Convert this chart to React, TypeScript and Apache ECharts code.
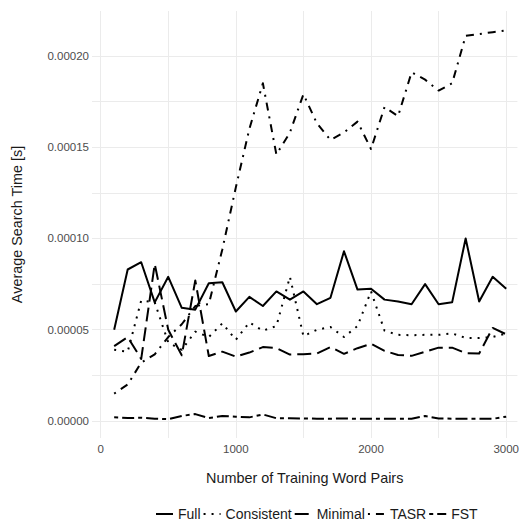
import React, { useEffect, useRef } from "react";
import * as echarts from "echarts";

const xValues = [100, 200, 300, 400, 500, 600, 700, 800, 900, 1000, 1100, 1200, 1300, 1400, 1500, 1600, 1700, 1800, 1900, 2000, 2100, 2200, 2300, 2400, 2500, 2600, 2700, 2800, 2900, 3000];

const fullValues = [5.0e-5, 8.3e-5, 8.7e-5, 6.5e-5, 7.9e-5, 6.2e-5, 6.1e-5, 7.55e-5, 7.6e-5, 6.0e-5, 6.8e-5, 6.3e-5, 7.1e-5, 6.65e-5, 7.1e-5, 6.4e-5, 6.75e-5, 9.3e-5, 7.2e-5, 7.25e-5, 6.65e-5, 6.55e-5, 6.4e-5, 7.5e-5, 6.4e-5, 6.5e-5, 10.0e-5, 6.55e-5, 7.9e-5, 7.25e-5];
const consistentValues = [3.9e-5, 3.8e-5, 6.6e-5, 6.5e-5, 4.3e-5, 3.9e-5, 4.9e-5, 4.6e-5, 5.35e-5, 4.45e-5, 5.4e-5, 4.95e-5, 5.2e-5, 7.9e-5, 4.65e-5, 5.0e-5, 5.15e-5, 4.6e-5, 5.2e-5, 7.1e-5, 4.95e-5, 4.72e-5, 4.7e-5, 4.72e-5, 4.72e-5, 4.8e-5, 4.55e-5, 4.55e-5, 4.6e-5, 4.8e-5];
const minimalValues = [4.1e-5, 4.6e-5, 3.4e-5, 8.6e-5, 5.0e-5, 3.6e-5, 7.7e-5, 3.56e-5, 3.8e-5, 3.53e-5, 3.75e-5, 4.05e-5, 4.0e-5, 3.64e-5, 3.66e-5, 3.7e-5, 4.05e-5, 3.68e-5, 3.99e-5, 4.23e-5, 3.84e-5, 3.62e-5, 3.57e-5, 3.79e-5, 4.02e-5, 4.02e-5, 3.72e-5, 3.7e-5, 5.1e-5, 4.75e-5];
const tasrValues = [1.5e-5, 2.0e-5, 3.2e-5, 3.65e-5, 4.6e-5, 5.3e-5, 6.3e-5, 6.4e-5, 9.4e-5, 12.8e-5, 16.0e-5, 18.5e-5, 14.6e-5, 15.8e-5, 17.9e-5, 16.3e-5, 15.4e-5, 15.8e-5, 16.4e-5, 14.9e-5, 17.2e-5, 16.7e-5, 19.1e-5, 18.7e-5, 18.1e-5, 18.5e-5, 21.1e-5, 21.2e-5, 21.3e-5, 21.4e-5];
const fstValues = [0.20e-5, 0.16e-5, 0.18e-5, 0.13e-5, 0.10e-5, 0.28e-5, 0.38e-5, 0.16e-5, 0.28e-5, 0.24e-5, 0.20e-5, 0.36e-5, 0.15e-5, 0.15e-5, 0.14e-5, 0.13e-5, 0.13e-5, 0.14e-5, 0.12e-5, 0.12e-5, 0.12e-5, 0.12e-5, 0.13e-5, 0.27e-5, 0.14e-5, 0.13e-5, 0.13e-5, 0.13e-5, 0.12e-5, 0.24e-5];

const seriesNames = ["Full", "Consistent", "Minimal", "TASR", "FST"];
const xTickLabels = [0, 1000, 2000, 3000];
const xGridValues = [0, 500, 1000, 1500, 2000, 2500, 3000];
const yTickLabels = [0, 0.00005, 0.0001, 0.00015, 0.0002];
const yGridValues = [0, 0.000025, 0.00005, 0.000075, 0.0001, 0.000125, 0.00015, 0.000175, 0.0002];

const FONT = "'Liberation Sans', Arial, Helvetica, sans-serif";

export default function App() {
  const ref = useRef<HTMLDivElement>(null);
  useEffect(() => {
    if (!ref.current) return;
    const chart = echarts.init(ref.current, undefined, { renderer: "svg" });
    const allValues = [fullValues, consistentValues, minimalValues, tasrValues, fstValues];
    const dashes: any[] = ["solid", [2, 6], [14, 6], [2, 6, 8, 6], [4, 4, 12, 4]];
    const series = seriesNames.map((name, i) => ({
      name,
      type: "line",
      data: xValues.map((x, j) => [x, allValues[i][j]]),
      showSymbol: false,
      symbol: "none",
      lineStyle: { color: "#000", width: 2, type: dashes[i], cap: "butt", join: "round" },
      itemStyle: { color: "#000" },
      emphasis: { disabled: true },
    }));
    chart.setOption({
      animation: false,
      backgroundColor: "#fff",
      textStyle: { fontFamily: FONT },
      grid: { left: 92, top: 11, right: 0, bottom: 85, containLabel: false },
      xAxis: {
        type: "value",
        min: -64,
        max: 3083,
        name: "Number of Training Word Pairs",
        nameLocation: "middle",
        nameGap: 33,
        nameTextStyle: { color: "#1a1a1a", fontSize: 14.4, fontFamily: FONT },
        axisLine: { show: false },
        axisTick: { show: false, customValues: xGridValues },
        axisLabel: {
          customValues: xTickLabels,
          color: "#4d4d4d",
          fontSize: 11.5,
          margin: 5,
          fontFamily: FONT,
          formatter: (v: number) => String(Math.round(v)),
        },
        splitLine: { show: true, lineStyle: { color: "#ebebeb", width: 1 } },
      },
      yAxis: {
        type: "value",
        min: -0.0000093,
        max: 0.0002246,
        name: "Average Search Time [s]",
        nameLocation: "middle",
        nameGap: 68,
        nameTextStyle: { color: "#1a1a1a", fontSize: 14.4, fontFamily: FONT },
        axisLine: { show: false },
        axisTick: { show: false, customValues: yGridValues },
        axisLabel: {
          customValues: yTickLabels,
          color: "#4d4d4d",
          fontSize: 11.5,
          margin: 3,
          fontFamily: FONT,
          formatter: (v: number) => v.toFixed(5),
        },
        splitLine: { show: true, lineStyle: { color: "#ebebeb", width: 1 } },
      },
      legend: {
        data: seriesNames,
        left: 155,
        top: 507,
        padding: 0,
        orient: "horizontal",
        itemWidth: 17,
        itemHeight: 14,
        itemGap: 2,
        itemStyle: { opacity: 0 },
        textStyle: { color: "#1a1a1a", fontSize: 14, fontFamily: FONT },
        selectedMode: false,
      },
      series,
    });
    return () => chart.dispose();
  }, []);
  return <div ref={ref} style={{ position: "absolute", left: 0, top: 0, width: 522, height: 523 }} />;
}
